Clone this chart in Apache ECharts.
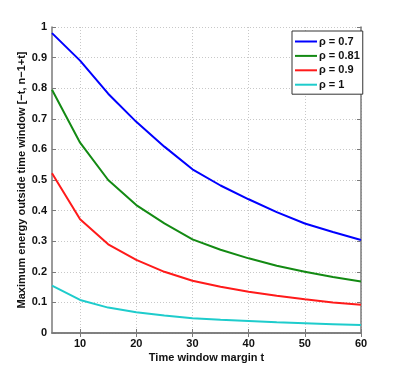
<!DOCTYPE html>
<html>
<head>
<meta charset="utf-8">
<script src="https://cdn.jsdelivr.net/npm/echarts@6/dist/echarts.min.js"></script>
<style>
  html, body { margin: 0; padding: 0; background: #fff; }
  #chart { width: 399px; height: 374px; }
</style>
</head>
<body>
<div id="chart"></div>
<script>
// time window margins
var margins = [5, 10, 15, 20, 25, 30, 35, 40, 45, 50, 55, 60];
var xTicks = [10, 20, 30, 40, 50, 60];
// values
var rho07  = [0.98, 0.89, 0.782, 0.69, 0.609, 0.535, 0.482, 0.437, 0.395, 0.358, 0.33, 0.304];
var rho081 = [0.795, 0.622, 0.5, 0.418, 0.358, 0.306, 0.272, 0.244, 0.22, 0.2, 0.183, 0.168];
var rho09  = [0.522, 0.372, 0.29, 0.239, 0.2, 0.171, 0.151, 0.135, 0.122, 0.11, 0.1, 0.092];
var rho1   = [0.155, 0.108, 0.083, 0.068, 0.057, 0.048, 0.043, 0.039, 0.035, 0.032, 0.029, 0.026];
var seriesNames = ['ρ = 0.7', 'ρ = 0.81', 'ρ = 0.9', 'ρ = 1'];
var seriesColors = ['#0000ff', '#138a13', '#ff1a1a', '#1ecccc'];

function pairs(ys) {
    var out = [];
    for (var i = 0; i < margins.length; i++) {
        out.push([margins[i], ys[i]]);
    }
    return out;
}

var allValues = [rho07, rho081, rho09, rho1];
var series = [];
for (var k = 0; k < allValues.length; k++) {
    series.push({
        name: seriesNames[k],
        type: 'line',
        data: pairs(allValues[k]),
        symbol: 'none',
        lineStyle: { color: seriesColors[k], width: 2 },
        itemStyle: { color: seriesColors[k] }
    });
}

var frame = '#7a7a7a';
var font = '"Liberation Sans", Arial, sans-serif';
var txt = { fontFamily: font, fontWeight: 'bold', fontSize: 11, color: '#111' };
var gridLine = { show: true, lineStyle: { color: '#c8c8c8', type: [1, 2], width: 1 } };

var chart = echarts.init(document.getElementById('chart'));
chart.setOption({
    animation: false,
    backgroundColor: '#fff',
    grid: { left: 52, right: 38, top: 27, bottom: 41 },
    legend: {
        orient: 'vertical',
        left: 292,
        top: 31,
        data: seriesNames,
        icon: 'rect',
        itemWidth: 22,
        itemHeight: 2,
        itemGap: 3.4,
        padding: [5, 3, 4, 3],
        backgroundColor: '#fff',
        borderColor: '#333',
        borderWidth: 1,
        textStyle: Object.assign({ padding: [0, 0, 0, -3] }, txt)
    },
    xAxis: [{
        type: 'value',
        min: 5,
        max: 60,
        interval: 5,
        name: 'Time window margin t',
        nameLocation: 'middle',
        nameGap: 19,
        nameMoveOverlap: false,
        nameTextStyle: txt,
        axisLine: { show: true, lineStyle: { color: frame, width: 1.5 } },
        axisTick: { show: true, inside: true, length: 4, lineStyle: { color: frame }, customValues: xTicks },
        axisLabel: Object.assign({ margin: 5, customValues: xTicks }, txt),
        splitLine: gridLine
    }, {
        type: 'value',
        position: 'top',
        min: 5,
        max: 60,
        interval: 5,
        axisLine: { show: true, lineStyle: { color: frame, width: 1.5 } },
        axisTick: { show: true, inside: true, length: 4, lineStyle: { color: frame }, customValues: xTicks },
        axisLabel: { show: false },
        splitLine: { show: false }
    }],
    yAxis: [{
        type: 'value',
        min: 0,
        max: 1,
        interval: 0.1,
        name: 'Maximum energy outside time window [\u2212t, n\u22121+t]',
        nameLocation: 'middle',
        nameGap: 25,
        nameMoveOverlap: false,
        nameTextStyle: txt,
        axisLine: { show: true, lineStyle: { color: frame, width: 1.5 } },
        axisTick: { show: true, inside: true, length: 4, lineStyle: { color: frame } },
        axisLabel: Object.assign({ margin: 5,
            formatter: function (v) { return Math.round(v * 10) / 10 + ''; } }, txt),
        splitLine: gridLine
    }, {
        type: 'value',
        position: 'right',
        min: 0,
        max: 1,
        interval: 0.1,
        axisLine: { show: true, lineStyle: { color: frame, width: 1.5 } },
        axisTick: { show: true, inside: true, length: 4, lineStyle: { color: frame } },
        axisLabel: { show: false },
        splitLine: { show: false }
    }],
    series: series
});
</script>
</body>
</html>
